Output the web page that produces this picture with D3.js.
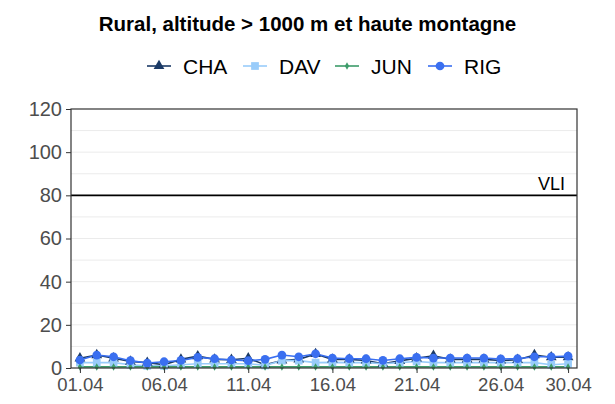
<html>
<head>
<style>
body { margin: 0; background: #fff; }
text { font-family: "Liberation Sans", Arial, sans-serif; }
.grid line { stroke: #ebebeb; stroke-width: 1px; }
.axis text { fill: #4d4d4d; font-size: 20px; }
.axis.xaxis text { font-size: 18.5px; }
.axis path, .axis line { stroke: #333; }
</style>
</head>
<body>
<svg width="615" height="404"></svg>
<script src="https://d3js.org/d3.v7.min.js"></script>
<script>
var days = d3.range(1, 31)
var cha = [4.5, 6, 4.5, 3, 2.5, 1.5, 4, 5.5, 4, 3.8, 4.5, 1.5, 3.5, 4, 6.5, 4, 4, 3.5, 2, 3.3, 4.5, 5.7, 4, 4, 4, 3.5, 3.8, 6, 5, 5]
var dav = [2.5, 2.5, 2.5, 1.5, 1, 1, 1.5, 2, 2, 2, 2, 1.2, 3.4, 3.4, 2.5, 2.6, 2.5, 2.5, 2, 2.5, 3, 2.5, 2.5, 2.5, 2.5, 2.5, 2.5, 2.5, 1.5, 2]
var jun = [0.5, 0.5, 0.5, 0.5, 0.5, 0.5, 0.5, 0.5, 0.5, 0.5, 0.5, 0.5, 0.5, 0.5, 0.5, 0.5, 0.5, 0.5, 0.5, 0.5, 0.5, 0.5, 0.5, 0.5, 0.5, 0.5, 0.5, 0.5, 0.5, 0.5]
var rig = [3.7, 6, 5.2, 3.4, 2.3, 2.9, 3.5, 4.9, 4.3, 3.7, 3.4, 4, 6, 5.2, 6.6, 4.6, 4.3, 4.3, 3.5, 4.3, 4.9, 4.6, 4.6, 4.6, 4.6, 4.2, 4.3, 5.2, 5.2, 5.5]
var xTicks = [1, 6, 11, 16, 21, 26, 30]
var xLabels = ["01.04", "06.04", "11.04", "16.04", "21.04", "26.04", "30.04"]
var yTicks = [0, 20, 40, 60, 80, 100, 120]
var vli = 80

var series = [
    {name: "CHA", values: cha, color: "#1b3a66", shape: d3.symbolTriangle, size: 50},
    {name: "DAV", values: dav, color: "#99ccfa", shape: d3.symbolSquare, size: 60},
    {name: "JUN", values: jun, color: "#3d9c6a", shape: d3.symbolDiamond, size: 16},
    {name: "RIG", values: rig, color: "#3a6ff0", shape: d3.symbolCircle, size: 60}
]

const svg = d3.select('svg')
const pLeft = 71, pRight = 577, pTop = 109, pBottom = 368

const x = d3.scaleLinear().domain([0.47, 30.53]).range([pLeft, pRight])
const y = d3.scaleLinear().domain([0, 120]).range([pBottom, pTop])

svg.append('text')
    .attr('x', 307.5).attr('y', 31)
    .attr('text-anchor', 'middle')
    .style('font-weight', 'bold').style('font-size', '20.5px')
    .text('Rural, altitude > 1000 m et haute montagne')

// gridlines
svg.append('g').attr('class', 'grid')
    .selectAll('line')
    .data(d3.range(10, 120, 10))
    .enter().append('line')
    .attr('x1', pLeft).attr('x2', pRight)
    .attr('y1', d => y(d)).attr('y2', d => y(d))

// VLI
svg.append('line')
    .attr('x1', pLeft).attr('x2', pRight)
    .attr('y1', y(vli)).attr('y2', y(vli))
    .attr('stroke', '#000').attr('stroke-width', 1.6)
svg.append('text')
    .attr('x', 565).attr('y', y(vli) - 5)
    .attr('text-anchor', 'end')
    .style('font-size', '18px')
    .text('VLI')

const line = d3.line()
    .x((d, i) => x(days[i]))
    .y(d => y(d))

series.forEach(function (s) {
    svg.append('path')
        .attr('d', line(s.values))
        .attr('fill', 'none')
        .attr('stroke', s.color)
        .attr('stroke-width', 1.6)
})
series.forEach(function (s) {
    svg.append('g')
        .selectAll('path')
        .data(s.values)
        .enter().append('path')
        .attr('transform', (d, i) => 'translate(' + x(days[i]) + ',' + y(d) + ')')
        .attr('d', d3.symbol().type(s.shape).size(s.size))
        .attr('fill', s.color)
})

// panel border
svg.append('rect')
    .attr('x', pLeft).attr('y', pTop)
    .attr('width', pRight - pLeft).attr('height', pBottom - pTop)
    .attr('fill', 'none').attr('stroke', '#333').attr('stroke-width', 1.2)

svg.append('g').attr('class', 'axis xaxis')
    .attr('transform', 'translate(0,' + pBottom + ')')
    .call(d3.axisBottom(x).tickValues(xTicks).tickFormat((d, i) => xLabels[i]).tickSize(5).tickPadding(5))
    .call(g => g.select('.domain').remove())

svg.append('g').attr('class', 'axis')
    .attr('transform', 'translate(' + pLeft + ',0)')
    .call(d3.axisLeft(y).tickValues(yTicks).tickSize(5).tickPadding(4))
    .call(g => g.select('.domain').remove())

// legend
const legend = svg.append('g')
const lx = [147, 243, 335, 428]
series.forEach(function (s, i) {
    const g = legend.append('g').attr('transform', 'translate(' + lx[i] + ',66)')
    g.append('line').attr('x1', 0).attr('x2', 24)
        .attr('stroke', s.color).attr('stroke-width', 1.6)
    g.append('path').attr('transform', 'translate(12,0)')
        .attr('d', d3.symbol().type(s.shape).size(s.size))
        .attr('fill', s.color)
    g.append('text').attr('x', 36).attr('y', 8)
        .style('font-size', '21px')
        .text(s.name)
})
</script>
</body>
</html>
